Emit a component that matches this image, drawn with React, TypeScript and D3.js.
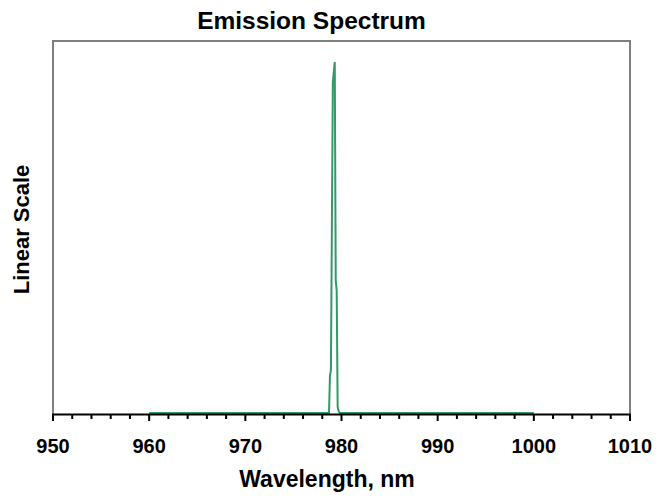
import React from "react";
import * as d3 from "d3";

const title = "Emission Spectrum";
const xLabel = "Wavelength, nm";
const yLabel = "Linear Scale";

const wavelengths = [960, 978.7, 978.8, 978.9, 979.1, 979.2, 979.3, 979.4, 979.5, 979.6, 979.7, 979.8, 1000];
const intensities = [0.003, 0.003, 0.102, 0.118, 0.89, 0.917, 0.944, 0.359, 0.33, 0.019, 0.008, 0.003, 0.003];

const majorTicks = [950, 960, 970, 980, 990, 1000, 1010];
const minorTicks = [952, 954, 956, 958, 962, 964, 966, 968, 972, 974, 976, 978, 982, 984, 986, 988, 992, 994, 996, 998, 1002, 1004, 1006, 1008];

const W = 657;
const H = 500;
const plot = { left: 53, right: 630, top: 41, bottom: 414 };
const font = "Arial, 'Liberation Sans', sans-serif";

export default function App() {
  const x = d3.scaleLinear().domain([950, 1010]).range([plot.left, plot.right]);
  const y = d3.scaleLinear().domain([0, 1]).range([plot.bottom, plot.top]);
  const pts: [number, number][] = wavelengths.map((w, i) => [w, intensities[i]]);
  const line = d3
    .line<[number, number]>()
    .x((d) => x(d[0]))
    .y((d) => y(d[1]));
  const cy = (plot.top + plot.bottom) / 2;
  return (
    <svg
      width={W}
      height={H}
      style={{ position: "absolute", left: 0, top: 0, background: "#fff" }}
      fontFamily={font}
    >
      <rect x={0} y={0} width={W} height={H} fill="#fff" />
      {/* frame */}
      <path
        d={`M${plot.left},${plot.bottom}V${plot.top}H${plot.right}V${plot.bottom}`}
        fill="none"
        stroke="#808080"
        strokeWidth={2}
      />
      {/* data */}
      <path d={line(pts) || ""} fill="none" stroke="#339966" strokeWidth={2} strokeLinejoin="miter" />
      {/* x axis */}
      <line x1={plot.left - 1} x2={plot.right + 1} y1={plot.bottom + 0.5} y2={plot.bottom + 0.5} stroke="#000" strokeWidth={2} />
      {majorTicks.map((t) => (
        <line key={"M" + t} x1={x(t)} x2={x(t)} y1={plot.bottom} y2={plot.bottom + 7} stroke="#000" strokeWidth={2} />
      ))}
      {minorTicks.map((t) => (
        <line key={"m" + t} x1={x(t)} x2={x(t)} y1={plot.bottom} y2={plot.bottom + 5} stroke="#000" strokeWidth={2} />
      ))}
      {majorTicks.map((t) => (
        <text key={"L" + t} x={x(t)} y={453} textAnchor="middle" fontSize={20} fontWeight="bold" fill="#000">
          {t}
        </text>
      ))}
      <text x={311.5} y={29} textAnchor="middle" fontSize={24.5} fontWeight="bold" fill="#000">
        {title}
      </text>
      <text x={327} y={487} textAnchor="middle" fontSize={23} fontWeight="bold" fill="#000">
        {xLabel}
      </text>
      <text
        transform={`translate(29,${cy + 2}) rotate(-90)`}
        textAnchor="middle"
        fontSize={22}
        fontWeight="bold"
        fill="#000"
      >
        {yLabel}
      </text>
    </svg>
  );
}
